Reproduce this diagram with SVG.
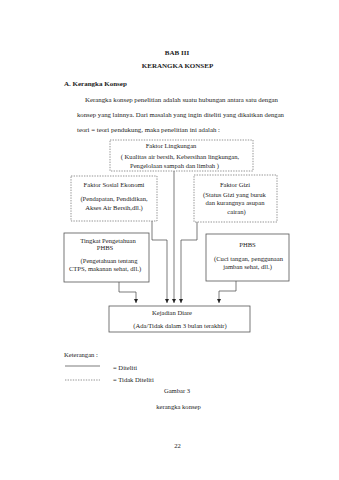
<svg xmlns="http://www.w3.org/2000/svg" width="339" height="480" viewBox="0 0 339 480">
<defs>
<style>
text{font-family:"Liberation Serif","Times New Roman",serif;font-size:6.6px;fill:#222}
.c{text-anchor:middle}
.b{font-weight:bold;font-size:7px}
.dot{fill:none;stroke:#666;stroke-width:0.7;stroke-dasharray:1.4,1.2}
.sol{fill:none;stroke:#555;stroke-width:0.8}
.ln{fill:none;stroke:#444;stroke-width:0.7}
</style>
<marker id="ah" markerUnits="userSpaceOnUse" markerWidth="5" markerHeight="5" refX="4" refY="2" orient="auto">
<path d="M0,0 L4,2 L0,4 Z" fill="#222"/>
</marker>
</defs>
<rect width="339" height="480" fill="#fff"/>
<g id="header">
<text class="c b" x="177" y="55">BAB III</text>
<text class="c b" x="177.5" y="68">KERANGKA KONSEP</text>
<text class="b" x="64" y="86">A. Kerangka Konsep</text>
<text x="85" y="102" textLength="193" lengthAdjust="spacingAndGlyphs">Kerangka konsep penelitian adalah suatu hubungan antara satu dengan</text>
<text x="77" y="117" textLength="207" lengthAdjust="spacingAndGlyphs">konsep yang lainnya. Dari masalah yang ingin diteliti yang dikaitkan dengan</text>
<text x="77" y="132" textLength="143" lengthAdjust="spacingAndGlyphs">teori = teori pendukung, maka penelitian ini adalah :</text>
</g>
<g id="connectors">
<path class="ln" d="M174,171 V303" marker-end="url(#ah)"/>
<path class="ln" d="M152,221 V240 H167 V303" marker-end="url(#ah)"/>
<path class="ln" d="M197,222 V240 H181 V303" marker-end="url(#ah)"/>
<path class="ln" d="M119,282 V292 H136 V303" marker-end="url(#ah)"/>
<path class="ln" d="M236,281 V291 H219 V303" marker-end="url(#ah)"/>
</g>
<g id="faktor-lingkungan">
<rect class="dot" x="110" y="140" width="143" height="31"/>
<text class="c" x="171" y="148">Faktor Lingkungan</text>
<text class="c" x="180" y="159">( Kualitas air bersih, Kebersihan lingkungan,</text>
<text class="c" x="174.5" y="168">Pengelolaan sampah dan limbah )</text>
</g>
<g id="faktor-sosial-ekonomi">
<rect class="dot" x="71" y="176" width="86" height="45"/>
<text class="c" x="114" y="187">Faktor Sosial Ekonomi</text>
<text class="c" x="114" y="201">(Pendapatan, Pendidikan,</text>
<text class="c" x="114" y="210">Akses Air Bersih,dll.)</text>
</g>
<g id="faktor-gizi">
<rect class="dot" x="194" y="175" width="83" height="47"/>
<text class="c" x="235" y="187">Faktor Gizi</text>
<text class="c" x="234.5" y="197">(Status Gizi yang buruk</text>
<text class="c" x="235" y="205">dan kurangnya asupan</text>
<text class="c" x="236.5" y="214">cairan)</text>
</g>
<g id="tingkat-pengetahuan">
<rect class="sol" x="64" y="233" width="85" height="49"/>
<text class="c" x="108" y="243">Tingkat Pengetahuan</text>
<text class="c" x="105" y="250">PHBS</text>
<text class="c" x="109" y="263">(Pengetahuan tentang</text>
<text class="c" x="105" y="271">CTPS, makanan sehat, dll.)</text>
</g>
<g id="phbs">
<rect class="sol" x="206" y="234" width="83" height="47"/>
<text class="c" x="247.5" y="247">PHBS</text>
<text class="c" x="248.5" y="261">(Cuci tangan, penggunaan</text>
<text class="c" x="247.5" y="269">jamban sehat, dll.)</text>
</g>
<g id="kejadian-diare">
<rect class="sol" x="109" y="306" width="141" height="26"/>
<text class="c" x="172" y="315">Kejadian Diare</text>
<text class="c" x="180" y="328">(Ada/Tidak dalam 3 bulan terakhir)</text>
</g>
<g id="legend">
<text x="64" y="357">Keterangan :</text>
<line class="ln" x1="65" y1="366" x2="100" y2="366"/>
<text x="113" y="370">= Diteliti</text>
<line class="dot" x1="65" y1="380" x2="100" y2="380"/>
<text x="113" y="382">= Tidak Diteliti</text>
<text class="c" x="177" y="393">Gambar 3</text>
<text class="c" x="178.5" y="409">kerangka konsep</text>
<text class="c" x="177.5" y="448">22</text>
</g>
</svg>
